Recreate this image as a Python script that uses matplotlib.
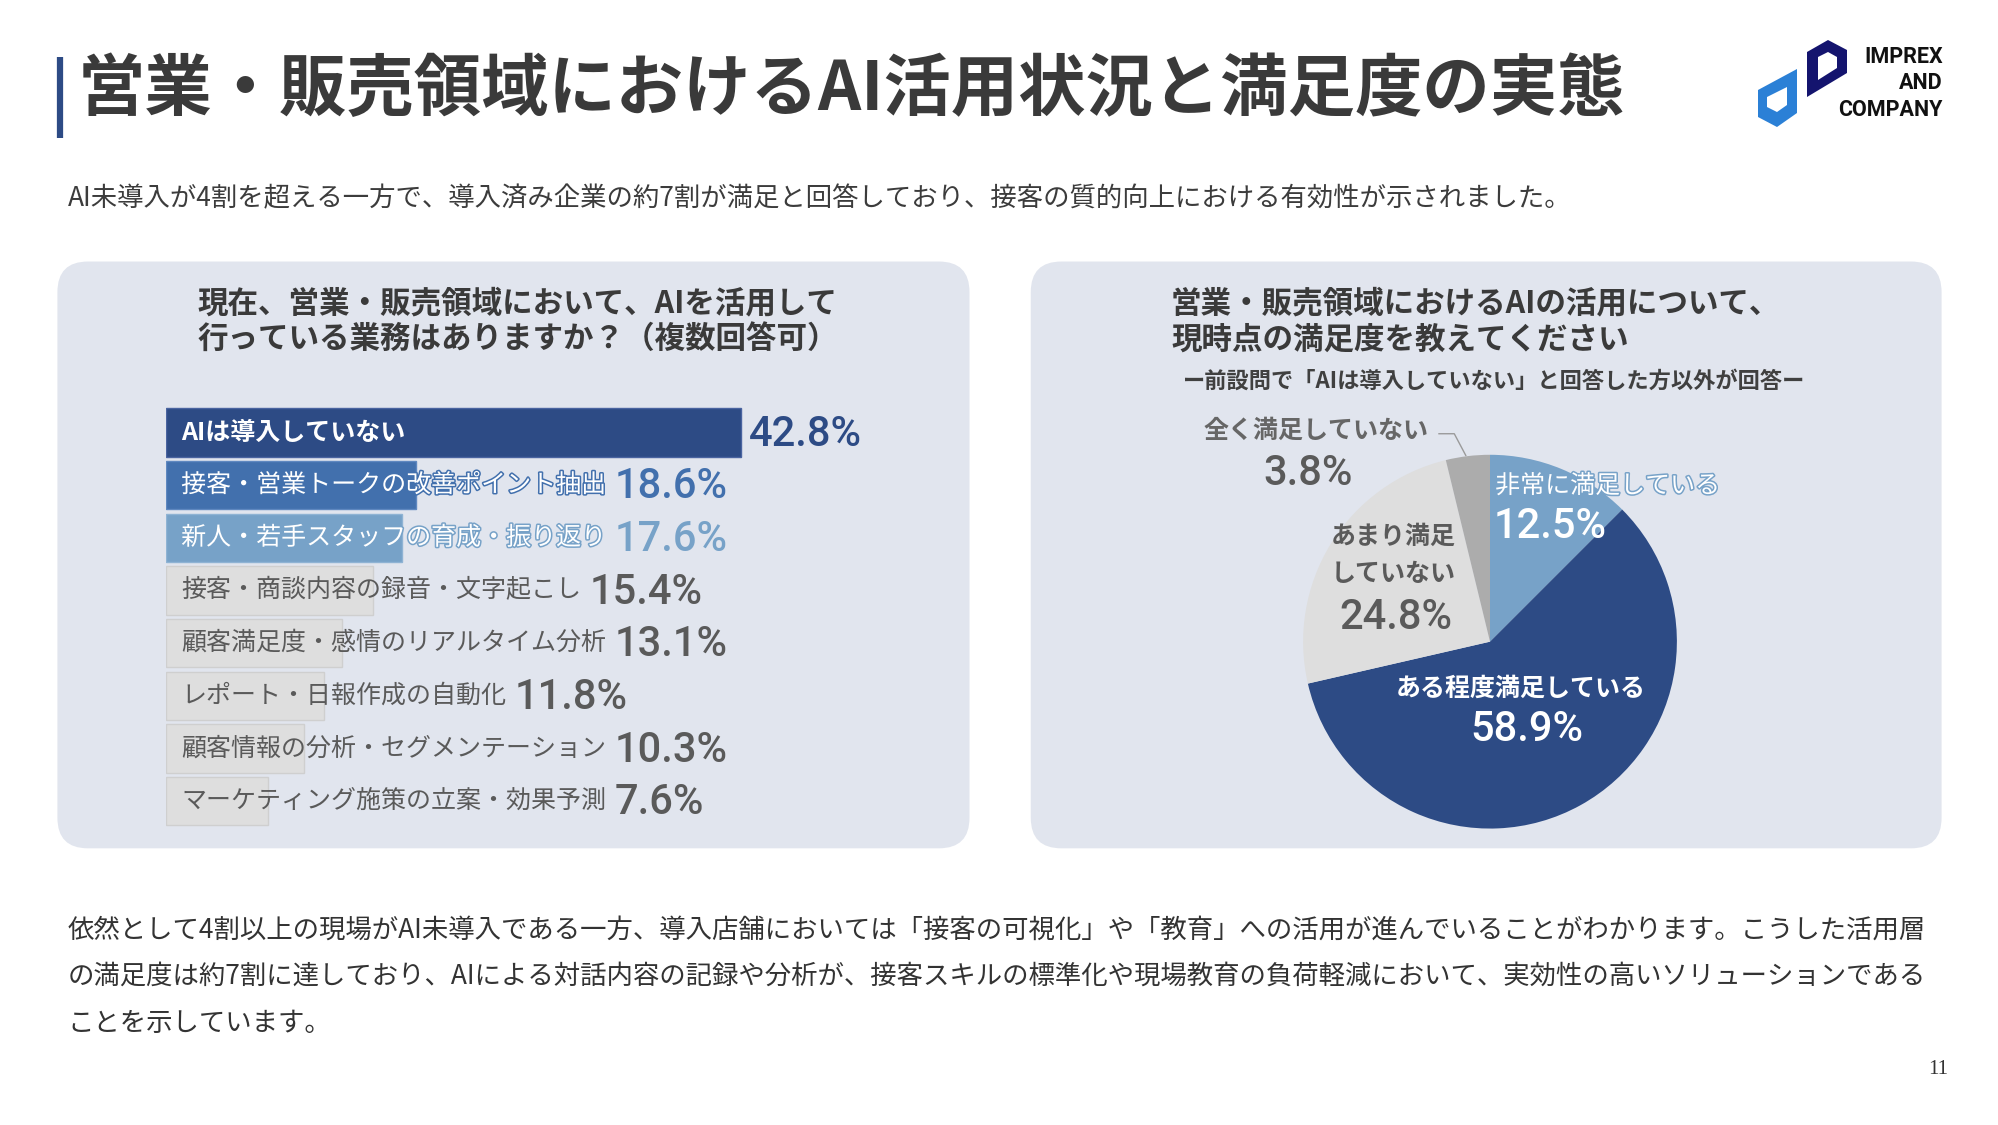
import matplotlib
matplotlib.use("Agg")
import matplotlib.pyplot as plt
from matplotlib.patches import FancyBboxPatch, Polygon
import matplotlib.patheffects as pe

# ---------------- data ----------------
bar_labels = [
    "AIは導入していない",
    "接客・営業トークの改善ポイント抽出",
    "新人・若手スタッフの育成・振り返り",
    "接客・商談内容の録音・文字起こし",
    "顧客満足度・感情のリアルタイム分析",
    "レポート・日報作成の自動化",
    "顧客情報の分析・セグメンテーション",
    "マーケティング施策の立案・効果予測",
]
bar_values = [42.8, 18.6, 17.6, 15.4, 13.1, 11.8, 10.3, 7.6]

pie_labels = ["非常に満足している", "ある程度満足している", "あまり満足\nしていない", "全く満足していない"]
pie_values = [12.5, 58.9, 24.8, 3.8]

title = "営業・販売領域におけるAI活用状況と満足度の実態"
subtitle = "AI未導入が4割を超える一方で、導入済み企業の約7割が満足と回答しており、接客の質的向上における有効性が示されました。"
left_title = ["現在、営業・販売領域において、AIを活用して", "行っている業務はありますか？（複数回答可）"]
right_title = ["営業・販売領域におけるAIの活用について、", "現時点の満足度を教えてください"]
right_note = "ー前設問で「AIは導入していない」と回答した方以外が回答ー"
body = [
    "依然として4割以上の現場がAI未導入である一方、導入店舗においては「接客の可視化」や「教育」への活用が進んでいることがわかります。こうした活用層",
    "の満足度は約7割に達しており、AIによる対話内容の記録や分析が、接客スキルの標準化や現場教育の負荷軽減において、実効性の高いソリューションである",
    "ことを示しています。",
]
page_no = "11"

# ---------------- style ----------------
JP = ["Noto Sans CJK JP", "DejaVu Sans"]
NUM = ["Roboto", "DejaVu Sans"]
NUMW = "medium"
NUMS = 30
NAVY = "#2d4b85"
MID = "#4270ad"
LIGHT = "#77a2c8"
GREY = "#dedede"
DGREY = "#acacac"
PANEL = "#e1e5ee"
TXT = "#3a3a3a"
GTXT = "#5a5a5a"

W, H = 1999, 1125
S = W / 1567.0  # layout measured on a 1567-wide view


def P(v):
    return v * S


fig = plt.figure(figsize=(W / 100, H / 100), dpi=100, facecolor="white")
ax0 = fig.add_axes([0, 0, 1, 1])
ax0.set_xlim(0, W)
ax0.set_ylim(H, 0)
ax0.axis("off")

# title
ax0.plot([P(47), P(47)], [P(45), P(108)], color=NAVY, lw=4.5, solid_capstyle="butt")
ax0.text(P(61), P(71), title, fontsize=48.5, fontweight="bold", color=TXT,
         va="center", ha="left", family=JP)
ax0.text(P(53), P(156), subtitle, fontsize=19, color="#3c3c3c", va="center", ha="left", family=JP)

# logo
lb = [(1758, 90), (1797, 69), (1797, 113), (1777, 127), (1758, 117)]
lb_in = [(1767, 97), (1787, 87), (1787, 105), (1777, 112), (1767, 107)]
nv = [(1807, 52), (1828, 40), (1847, 50), (1847, 73), (1807, 97)]
nv_in = [(1818, 57), (1828, 52), (1837, 57), (1837, 68), (1818, 80)]
ax0.add_patch(Polygon(lb, closed=True, fc="#2b80d6", ec="none"))
ax0.add_patch(Polygon(lb_in, closed=True, fc="white", ec="none"))
ax0.add_patch(Polygon(nv, closed=True, fc="#14146e", ec="none"))
ax0.add_patch(Polygon(nv_in, closed=True, fc="white", ec="none"))
for t, yy in zip(["IMPREX", "AND", "COMPANY"], [57, 83, 110]):
    ax0.text(1943, yy, t, fontsize=15.5, fontweight="bold", color="#111111",
             ha="right", va="center", family=["Roboto", "DejaVu Sans"])

# panels
for x0, x1 in [(45, 760), (808, 1522)]:
    ax0.add_patch(FancyBboxPatch((P(x0), P(205)), P(x1 - x0), P(665 - 205),
                                 boxstyle="round,pad=0,rounding_size=%f" % P(24),
                                 fc=PANEL, ec="none"))

for i, line in enumerate(left_title):
    ax0.text(P(155), P(238) + i * P(28), line, fontsize=22, fontweight="bold",
             color=TXT, va="center", ha="left", family=JP)
for i, line in enumerate(right_title):
    ax0.text(P(918), P(238) + i * P(28), line, fontsize=22, fontweight="bold",
             color=TXT, va="center", ha="left", family=JP)
ax0.text(P(927), P(299), right_note, fontsize=16, fontweight="bold", color="#404040",
         va="center", ha="left", family=JP)

# body
for i, line in enumerate(body):
    ax0.text(P(53), P(729) + i * P(36.5), line, fontsize=19, color="#333333",
             va="center", ha="left", family=JP)
ax0.text(P(1527), P(838), page_no, fontsize=15, color="#333333", va="center", ha="right",
         family=["Liberation Serif", "DejaVu Serif"])

# ---------------- bar chart ----------------
px_per_pct = 10.54
bx0, bx1 = 130, 130 + 50 * px_per_pct
by0, by1 = 318.4, 648.6
ax_bar = fig.add_axes([P(bx0) / W, 1 - P(by1) / H, (P(bx1) - P(bx0)) / W, (P(by1) - P(by0)) / H])
ax_bar.set_xlim(0, 50)
ax_bar.set_ylim(len(bar_values) - 0.5, -0.5)
ax_bar.axis("off")

bar_colors = [NAVY, MID, LIGHT] + [GREY] * 5
edge_colors = ["#4a64a0", "#5f88c0", "#8fb3d4"] + ["#cfcfcf"] * 5
val_colors = [NAVY, MID, LIGHT] + [GTXT] * 5
ypos = list(range(len(bar_values)))
ax_bar.barh(ypos, bar_values, height=0.92, color=bar_colors, edgecolor=edge_colors, linewidth=1.0)

lab_x = (142 - 130) / px_per_pct
label_artists = []
for i, lab in enumerate(bar_labels):
    if i == 0:
        t = ax_bar.text(lab_x, i, lab, fontsize=18, fontweight="bold", color="white",
                        va="center", ha="left", family=JP)
    elif i in (1, 2):
        t = ax_bar.text(lab_x, i, lab, fontsize=18, color="white", va="center", ha="left",
                        family=JP,
                        path_effects=[pe.withStroke(linewidth=2.2, foreground=bar_colors[i])])
    else:
        t = ax_bar.text(lab_x, i, lab, fontsize=18, color=GTXT, va="center", ha="left",
                        family=JP)
    label_artists.append(t)

fig.canvas.draw()
renderer = fig.canvas.get_renderer()
inv = ax_bar.transData.inverted()
for i, (t, v) in enumerate(zip(label_artists, bar_values)):
    text_end = t.get_window_extent(renderer).x1
    bar_end = ax_bar.transData.transform((v, i))[0]
    xpix = max(text_end, bar_end) + 8
    xd = inv.transform((xpix, 0))[0]
    ax_bar.text(xd, i + 0.03, f"{v:.1f}%", fontsize=NUMS, fontweight=NUMW, color=val_colors[i],
                va="center", ha="left", family=NUM)

# ---------------- pie chart ----------------
cx, cy, r = 1168, 503, 146.5
ax_pie = fig.add_axes([(P(cx) - P(r)) / W, 1 - (P(cy) + P(r)) / H, 2 * P(r) / W, 2 * P(r) / H])
ax_pie.pie(pie_values, colors=[LIGHT, NAVY, GREY, DGREY], startangle=90,
           counterclock=False, radius=1, wedgeprops=dict(linewidth=0))
ax_pie.set_xlim(-1, 1)
ax_pie.set_ylim(-1, 1)
ax_pie.axis("off")

# pie labels (page coordinates, drawn on the pie axes so they sit above it)
PT = ax0.transData


def ptext(x, y, s, **kw):
    ax_pie.text(P(x), P(y), s, transform=PT, clip_on=False, **kw)


ptext(1172, 381, pie_labels[0], fontsize=18, color="white", va="center", ha="left",
      family=JP, path_effects=[pe.withStroke(linewidth=2.2, foreground=LIGHT)])
ptext(1171, 413, f"{pie_values[0]:.1f}%", fontsize=NUMS, fontweight=NUMW, color="white",
      va="center", ha="left", family=NUM)
ptext(1192, 540, pie_labels[1], fontsize=18, fontweight="bold", color="white",
      va="center", ha="center", family=JP)
ptext(1197, 572, f"{pie_values[1]:.1f}%", fontsize=NUMS, fontweight=NUMW, color="white",
      va="center", ha="center", family=NUM)
l1, l2 = pie_labels[2].split("\n")
ptext(1092, 421, l1, fontsize=18, fontweight="bold", color=GTXT, va="center", ha="center", family=JP)
ptext(1092, 450, l2, fontsize=18, fontweight="bold", color=GTXT, va="center", ha="center", family=JP)
ptext(1094, 484, f"{pie_values[2]:.1f}%", fontsize=NUMS, fontweight=NUMW, color=GTXT,
      va="center", ha="center", family=NUM)
ptext(1032, 338, pie_labels[3], fontsize=18, fontweight="bold", color="#666666",
      va="center", ha="center", family=JP)
ptext(1025, 371, f"{pie_values[3]:.1f}%", fontsize=NUMS, fontweight=NUMW, color=GTXT,
      va="center", ha="center", family=NUM)
ax_pie.plot([P(1128), P(1140), P(1149)], [P(340), P(340), P(357)], color="#9a9a9a", lw=1,
            transform=PT, clip_on=False)

fig.savefig("out.png", dpi=100, facecolor="white")
